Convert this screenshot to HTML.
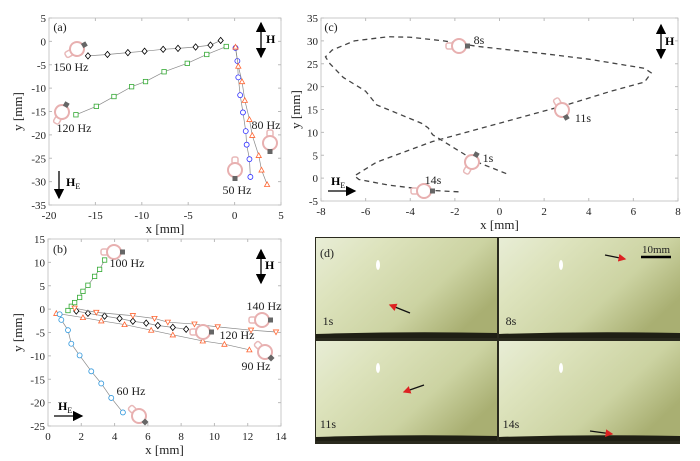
<!DOCTYPE html>
<html><head><meta charset="utf-8"><style>
body{margin:0;background:#fff;width:700px;height:456px;overflow:hidden}
svg{font-family:"Liberation Serif",serif}
</style></head><body>
<svg id="fig" width="700" height="456" viewBox="0 0 700 456">
<defs>
<marker id="ah" markerWidth="8" markerHeight="8" refX="7" refY="4" orient="auto"><path d="M0,0L8,4L0,8z" fill="#000"/></marker>
<marker id="ahs" markerWidth="8" markerHeight="8" refX="1" refY="4" orient="auto"><path d="M8,0L0,4L8,8z" fill="#000"/></marker>
<marker id="ahr" markerWidth="6" markerHeight="6" refX="5" refY="3" orient="auto"><path d="M0,0L6,3L0,6z" fill="#d22"/></marker>
<linearGradient id="img2" x1="0" y1="0" x2="1" y2="0.6"><stop offset="0" stop-color="#e8edd6"/><stop offset="0.3" stop-color="#dde3bd"/><stop offset="0.7" stop-color="#ccd3a2"/><stop offset="1" stop-color="#a9af72"/></linearGradient>
</defs>
</svg>
<script>
// Panel (a) data
const aX150=[-15.8,-13.7,-11.5,-9.7,-7.7,-6.1,-4.2,-2.6,-1.5];
const aY150=[-3.1,-2.8,-2.4,-2.1,-1.7,-1.5,-1.2,-0.8,0.2];
const aX120=[-17.1,-14.9,-13,-11.1,-9.6,-7.6,-5.1,-3,-0.9];
const aY120=[-15.7,-13.9,-11.8,-9.7,-8.6,-6.5,-4.7,-2.8,-1.1];
const aX50=[0.1,0.3,0.4,0.6,0.9,1.2,1.3,1.6,1.7];
const aY50=[-1.4,-4.2,-7.7,-11.5,-15.2,-19.2,-22.1,-25.2,-29];
const aX80=[0.1,0.4,0.8,1.1,1.6,1.9,2.6,2.9,3.5];
const aY80=[-1.2,-5.3,-8.6,-12.6,-16.7,-20.1,-24.4,-27.5,-30.6];
const aXTicks=[-20,-15,-10,-5,0,5];
const aYTicks=[5,0,-5,-10,-15,-20,-25,-30,-35];
// Panel (b) data
const bX100=[1.2,1.4,1.6,1.9,2.1,2.4,2.8,3.1,3.4];
const bY100=[-0.3,0.6,1.4,2.5,3.8,5.1,7,8.5,10.5];
const bX120=[1.7,2.4,3.4,4.3,5.1,5.9,6.6,7.5,8.3];
const bY120=[-0.4,-0.9,-1.5,-2,-2.6,-3,-3.5,-3.9,-4.3];
const bX140=[1.6,2.9,5.1,6.4,7.2,8.8,10.2,12.2,13.7];
const bY140=[0.2,-0.7,-1.4,-2,-2.8,-3.2,-3.8,-4.5,-4.9];
const bX90=[0.5,2.1,3.2,4.6,6.2,7.5,9.3,10.6,12.1];
const bY90=[-0.9,-1.8,-2.5,-3.3,-4.5,-5.5,-6.8,-7.5,-8.7];
const bX60=[0.7,0.8,1.2,1.4,1.9,2.6,3.2,3.8,4.5];
const bY60=[-1.1,-2.3,-4.5,-7.4,-9.9,-13.3,-15.9,-19,-22.1];
const bXTicks=[0,2,4,6,8,10,12,14];
const bYTicks=[15,10,5,0,-5,-10,-15,-20,-25];
// Panel (c) data
const cX=[0.3,-1,-2,-3,-3.2,-3.5,-5.5,-6,-7,-7.6,-7.8,-7.5,-6.5,-5,-4,-2.5,-1,2,4,6.5,6.8,6.5,5,3,0,-3,-5.5,-6.5,-6.3,-5,-3,-1.8];
const cY=[1,3.5,6.5,9.5,11,12,16,19,22,25,26.5,28,30,30.9,30.8,30,28.8,27.2,26,24,23,21,19,16,12,8,3.5,0.5,-0.3,-1.5,-2.7,-3];
const cXTicks=[-8,-6,-4,-2,0,2,4,6,8];
const cYTicks=[35,30,25,20,15,10,5,0,-5];

const svg=document.getElementById('fig');
const NS='http://www.w3.org/2000/svg';
function mk(tag,attrs,parent){const e=document.createElementNS(NS,tag);for(const k in attrs)e.setAttribute(k,attrs[k]);(parent||svg).appendChild(e);return e;}
function txt(s,x,y,size,anchor,parent){const t=mk('text',{x:x,y:y,'font-size':size,'text-anchor':anchor||'middle',fill:'#222'},parent);t.textContent=s;return t;}
function axes(name,L,R,T,B,x0,x1,y0,y1,xt,yt,xlab,ylab,ylx){
  const g=mk('g',{});
  
  
  const sx=v=>L+(v-x0)/(x1-x0)*(R-L), sy=v=>B-(v-y0)/(y1-y0)*(B-T);
  mk('rect',{x:L,y:T,width:R-L,height:B-T,fill:'none',stroke:'#bbb','stroke-width':0.8},g);
  xt.forEach(v=>{const x=sx(v);mk('line',{x1:x,x2:x,y1:B,y2:B-3,stroke:'#bbb'},g);mk('line',{x1:x,x2:x,y1:T,y2:T+3,stroke:'#bbb'},g);txt(String(v),x,B+14,11,'middle',g);});
  yt.forEach(v=>{const y=sy(v);mk('line',{x1:L,x2:L+3,y1:y,y2:y,stroke:'#bbb'},g);mk('line',{x1:R,x2:R-3,y1:y,y2:y,stroke:'#bbb'},g);txt(String(v),L-3,y+4,11,'end',g);});
  const xl=txt(xlab,(L+R)/2,B+28,13,'middle',g);
  
  const cy=(T+B)/2;const yl=txt(ylab,ylx,cy,13,'middle',g);yl.setAttribute('transform','rotate(-90 '+ylx+' '+cy+')');
  
  return {sx,sy,g};
}
function marker(shape,x,y,col,g){
  const r=2.6;
  if(shape==='d')mk('path',{d:`M${x},${y-r-0.5}L${x+r},${y}L${x},${y+r+0.5}L${x-r},${y}Z`,fill:'#fff',stroke:col,'stroke-width':0.8},g);
  else if(shape==='s')mk('rect',{x:x-2.2,y:y-2.2,width:4.4,height:4.4,fill:'#fff',stroke:col,'stroke-width':0.8},g);
  else if(shape==='o')mk('circle',{cx:x,cy:y,r:2.5,fill:'#fff',stroke:col,'stroke-width':0.8},g);
  else if(shape==='^')mk('path',{d:`M${x},${y-r}L${x+r},${y+r-0.5}L${x-r},${y+r-0.5}Z`,fill:'#fff',stroke:col,'stroke-width':0.8},g);
  else mk('path',{d:`M${x},${y+r}L${x+r},${y-r+0.5}L${x-r},${y-r+0.5}Z`,fill:'#fff',stroke:col,'stroke-width':0.8},g);
}
function series(ax,xs,ys,shape,col,name){
  const g=mk('g',{},ax.g);
  
  
  mk('polyline',{points:xs.map((v,i)=>ax.sx(v)+','+ax.sy(ys[i])).join(' '),fill:'none',stroke:'#888','stroke-width':0.7},g);
  xs.forEach((v,i)=>marker(shape,ax.sx(v),ax.sy(ys[i]),col,g));
}
function robot(x,y,ang,name){
  const g=mk('g',{transform:`translate(${x},${y}) rotate(${ang})`});
  
  
  mk('rect',{x:-13,y:-3,width:7,height:6,rx:2,fill:'#fff',stroke:'#e8b8b8','stroke-width':1.5},g);
  mk('circle',{cx:0,cy:0,r:7,fill:'#fff',stroke:'#e8b0b0','stroke-width':2},g);
  mk('rect',{x:6,y:-2.5,width:5,height:5,fill:'#666'},g);
}
function arrow(x1,y1,x2,y2,dbl,name){
  const l=mk('line',{x1,y1,x2,y2,stroke:'#000','stroke-width':1.3,'marker-end':'url(#ah)'});
  if(dbl)l.setAttribute('marker-start','url(#ahs)');
  
  
}
function boldLabel(s,sub,x,y){const t=mk('text',{x,y,'font-size':12,'font-weight':'bold',fill:'#000'});t.textContent=s;if(sub){const ts=mk('tspan',{'font-size':8,'font-weight':'normal',dy:3},t);ts.textContent=sub;}return t;}

// Panel (a)
const A=axes('panel-a',49,281,18,205,-20,5,-35,5,aXTicks,aYTicks,'x [mm]','y [mm]',22);
txt('(a)',60,31,12,'middle',A.g);
series(A,aX150,aY150,'d','#000','series-150hz');
series(A,aX120,aY120,'s','#3a3','series-120hz');
series(A,aX50,aY50,'o','#33f','series-50hz');
series(A,aX80,aY80,'^','#f63','series-80hz');
robot(77,49,-30,'robot-150hz');robot(62,112,-60,'robot-120hz');robot(235,170,90,'robot-50hz');robot(270,143,90,'robot-80hz');
txt('150 Hz',71,71,12,'middle');txt('120 Hz',74,132,12,'middle');txt('80 Hz',266,129,12,'middle');txt('50 Hz',237,194,12,'middle');
arrow(261,23,261,57,true,'h-arrow-a');boldLabel('H','',266,43);
arrow(59,171,59,198,false,'he-arrow-a');boldLabel('H','E',66,186);

// Panel (b)
const B=axes('panel-b',48,281,239,426,0,14,-25,15,bXTicks,bYTicks,'x [mm]','y [mm]',22);
txt('(b)',60,253,12,'middle',B.g);
series(B,bX100,bY100,'s','#3a3','series-100hz');
series(B,bX120,bY120,'d','#000','series-120hz-b');
series(B,bX140,bY140,'v','#f63','series-140hz');
series(B,bX90,bY90,'^','#f63','series-90hz');
series(B,bX60,bY60,'o','#39d','series-60hz');
robot(114,252,0,'robot-100hz');robot(262,320,0,'robot-140hz');robot(203,332,0,'robot-120hz-b');robot(265,352,45,'robot-90hz');robot(139,416,45,'robot-60hz');
txt('100 Hz',127,267,12,'middle');txt('140 Hz',264,310,12,'middle');txt('120 Hz',237,339,12,'middle');txt('90 Hz',256,370,12,'middle');txt('60 Hz',131,395,12,'middle');
arrow(261,250,261,283,true,'h-arrow-b');boldLabel('H','',265,269);
arrow(54,416,82,416,false,'he-arrow-b');boldLabel('H','E',58,410);

// Panel (c)
const C=axes('panel-c',321,678,18,201,-8,8,-5,35,cXTicks,cYTicks,'x [mm]','y [mm]',300);
txt('(c)',331,31,12,'middle',C.g);
const path=mk('polyline',{points:cX.map((v,i)=>C.sx(v)+','+C.sy(cY[i])).join(' '),fill:'none',stroke:'#444','stroke-width':1.3,'stroke-dasharray':'5,4'},C.g);


robot(459,46,0,'robot-8s');robot(562,110,60,'robot-11s');robot(472,162,-60,'robot-1s');robot(424,191,0,'robot-14s');
txt('8s',479,44,12,'middle');txt('11s',583,122,12,'middle');txt('1s',488,162,12,'middle');txt('14s',433,184,12,'middle');
arrow(661,25,661,58,true,'h-arrow-c');boldLabel('H','',665,45);
arrow(328,191,355,191,false,'he-arrow-c');boldLabel('H','E',331,185);

// Panel (d)
const D=mk('g',{});


mk('rect',{x:315,y:237,width:365,height:207,fill:'#2a2a1e'},D);
const cells=[[316,238,'1s'],[499,238,'8s'],[316,341,'11s'],[499,341,'14s']];
cells.forEach(c=>{
  mk('rect',{x:c[0],y:c[1],width:181,height:100,fill:'url(#img2)'},D);
  mk('path',{d:`M${c[0]},${c[1]+96} Q${c[0]+90},${c[1]+93} ${c[0]+181},${c[1]+95} L${c[0]+181},${c[1]+100} L${c[0]},${c[1]+100}Z`,fill:'#1f1f14'},D);
  mk('ellipse',{cx:c[0]+62,cy:c[1]+27,rx:2,ry:5,fill:'#fff'},D);
  txt(c[2],c[0]+12,c[1]+87,12,'middle',D);
});
txt('(d)',327,257,12,'middle',D);
const ra=[[410,313,390,305],[605,255,625,259],[424,385,404,392],[590,431,612,434]];
ra.forEach(r=>{mk('line',{x1:r[0],y1:r[1],x2:r[2],y2:r[3],stroke:'#111','stroke-width':1.3,'marker-end':'url(#ahr)'},D);});
mk('line',{x1:641,y1:257,x2:671,y2:257,stroke:'#000','stroke-width':2.5},D);
txt('10mm',656,253,11,'middle',D);
</script>
</body></html>
